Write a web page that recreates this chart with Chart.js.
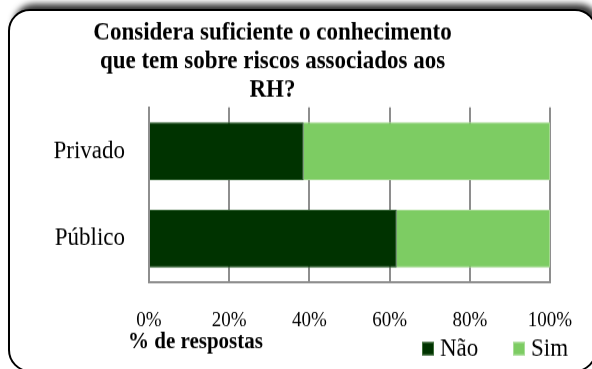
<!DOCTYPE html>
<html>
<head>
<meta charset="utf-8">
<script src="https://cdn.jsdelivr.net/npm/chart.js@4.4.1/dist/chart.umd.min.js"></script>
<style>
  html, body { margin: 0; padding: 0; width: 592px; height: 369px; overflow: hidden; background: #fff; }
  #frame {
    position: absolute; left: 8px; top: 9px; width: 585px; height: 359px;
    border: 2px solid #000; border-radius: 22px; background: #fff;
    box-shadow: 4px -7px 6px -2px rgba(0, 0, 0, 0.8);
  }
  /* the chart is drawn slightly compressed and stretched back vertically, giving tall glyphs */
  #wrap {
    position: absolute; left: 0; top: 0; width: 592px; height: 336px;
    transform: scale(1, 1.09821); transform-origin: 0 0;
  }
</style>
</head>
<body>
<div id="frame"></div>
<div id="wrap"><canvas id="c" width="592" height="336"></canvas></div>
<script>
// Survey answers per sector, in percent of responses
const categories = ['Privado', 'Público'];
const naoValues = [38.6, 61.8];
const simValues = [61.4, 38.2];
const seriesNames = ['Não', 'Sim'];
const xTickValues = [0, 20, 40, 60, 80, 100];
const titleLines = ['Considera suficiente o conhecimento', 'que tem sobre riscos associados aos', 'RH?'];
const axisTitle = '% de respostas';

const DARK = '#003300';
const LIGHT = '#7dcc63';
const GRID = '#8e8e8e';
const SERIF = "'Liberation Serif', 'Times New Roman', serif";

// Title, axis caption and legend drawn on top of the chart
const decorations = {
  id: 'decorations',
  afterDraw(chart) {
    const ctx = chart.ctx;
    ctx.save();
    ctx.fillStyle = '#000';
    ctx.textBaseline = 'alphabetic';

    ctx.font = 'bold 23px ' + SERIF;
    ctx.textAlign = 'center';
    const baselines = [36, 62, 88];
    titleLines.forEach((line, i) => ctx.fillText(line, 272.5, baselines[i]));

    ctx.font = 'bold 21px ' + SERIF;
    ctx.textAlign = 'left';
    ctx.fillText(axisTitle, 128, 317);

    ctx.font = '23px ' + SERIF;
    const boxX = [422, 513];
    const borders = ['#3f6f3a', '#a9dd98'];
    chart.data.datasets.forEach((ds, i) => {
      ctx.fillStyle = ds.backgroundColor;
      ctx.fillRect(boxX[i], 311.5, 12, 12);
      ctx.strokeStyle = borders[i];
      ctx.lineWidth = 1;
      ctx.strokeRect(boxX[i] + 0.5, 312, 11, 11);
      ctx.fillStyle = '#000';
      ctx.fillText(ds.label, boxX[i] + 18, 324);
    });
    ctx.restore();
  }
};

new Chart(document.getElementById('c'), {
  type: 'bar',
  data: {
    labels: categories,
    datasets: [
      { label: seriesNames[0], data: naoValues, backgroundColor: DARK, borderColor: '#2f5f2f', borderWidth: 1 },
      { label: seriesNames[1], data: simValues, backgroundColor: LIGHT, borderColor: '#a3d98f', borderWidth: 1 }
    ]
  },
  options: {
    indexAxis: 'y',
    responsive: false,
    animation: false,
    layout: { padding: { top: 97.7, right: 42, bottom: 0, left: 0 } },
    datasets: { bar: { categoryPercentage: 1, barPercentage: 0.663 } },
    plugins: {
      legend: { display: false },
      title: { display: false },
      tooltip: { enabled: false }
    },
    scales: {
      x: {
        stacked: true,
        min: xTickValues[0],
        max: xTickValues[xTickValues.length - 1],
        afterBuildTicks: s => { s.ticks = xTickValues.map(v => ({ value: v })); },
        afterFit: s => { s.height = 78.8; s.paddingLeft = 0; s.paddingRight = 0; },
        ticks: {
          color: '#000',
          font: { family: SERIF, size: 19 },
          padding: 23,
          callback: v => v + '%'
        },
        grid: { color: GRID, lineWidth: 2, drawTicks: false },
        border: { display: true, color: GRID, width: 2 }
      },
      y: {
        stacked: true,
        afterFit: s => { s.width = 149; },
        ticks: {
          color: '#000',
          font: { family: SERIF, size: 23 },
          padding: 24
        },
        grid: { display: false, drawTicks: false },
        border: { display: true, color: GRID, width: 2 }
      }
    }
  },
  plugins: [decorations]
});
</script>
</body>
</html>
